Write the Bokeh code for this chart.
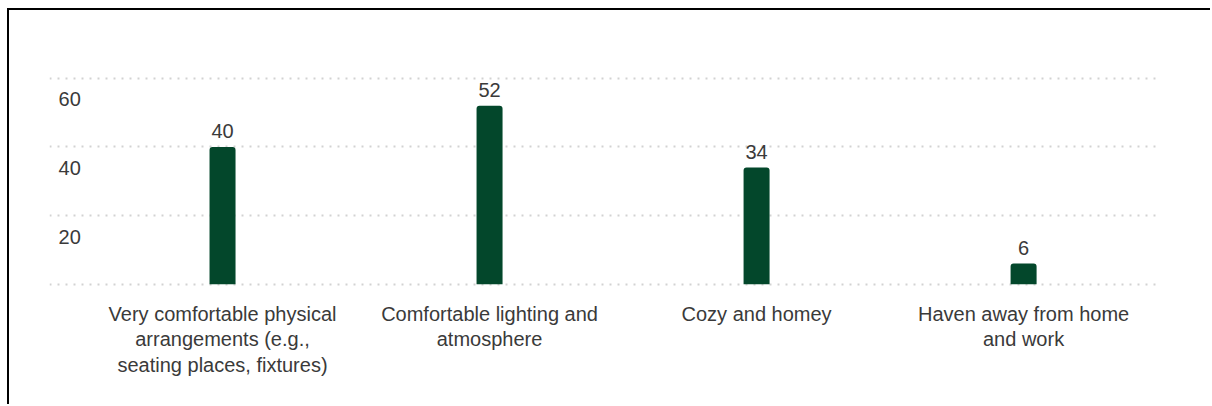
from bokeh.plotting import figure
from bokeh.models import Range1d, FixedTicker, ColumnDataSource
from bokeh.core.properties import value
from bokeh.embed import file_html
from bokeh.resources import INLINE

categories = [
    "Very comfortable physical\narrangements (e.g.,\nseating places, fixtures)",
    "Comfortable lighting and\natmosphere",
    "Cozy and homey",
    "Haven away from home\nand work",
]
values = [40, 52, 34, 6]
y_ticks = [0, 20, 40, 60]
y_tick_labels = ["", "20", "40", "60"]

FONT = "Liberation Sans"
BAR = "#03472b"
TXT = "#3a3a3a"

xs = list(range(len(categories)))

p = figure(
    width=1203, height=396,
    output_backend="svg", toolbar_location=None,
    x_range=Range1d(-0.648, 3.509), y_range=Range1d(-3, 62),
    min_border_left=40, min_border_right=53, min_border_top=61, min_border_bottom=112,
)
p.styles = {"border-left": "2px solid #000", "border-top": "2px solid #000",
            "margin-left": "7px", "margin-top": "8px"}
p.outline_line_color = None
p.background_fill_color = "white"
p.border_fill_color = "white"

p.xgrid.visible = False
p.ygrid.ticker = FixedTicker(ticks=y_ticks)
p.ygrid.grid_line_color = "#d2d2d2"
p.ygrid.grid_line_width = 2
p.ygrid.grid_line_dash = "2 6"
p.yaxis.visible = False

ax = p.xaxis[0]
ax.ticker = FixedTicker(ticks=xs)
ax.major_label_overrides = {i: c for i, c in zip(xs, categories)}
ax.axis_line_color = None
ax.major_tick_line_color = None
ax.minor_tick_line_color = None
ax.major_tick_out = 0
ax.major_tick_in = 0
ax.major_label_standoff = 8
ax.major_label_text_font = FONT
ax.major_label_text_font_size = "20px"
ax.major_label_text_line_height = 1.17
ax.major_label_text_color = TXT

src = ColumnDataSource(dict(x=xs, top=values, lab=[str(v) for v in values]))
p.vbar(x="x", top="top", bottom=0, width=0.0974, source=src,
       fill_color=BAR, line_color=None, border_radius=(3, 3, 0, 0))
p.text(x="x", y="top", text="lab", source=src, text_align="center",
       text_baseline="alphabetic", y_offset=-16,
       text_font=value(FONT), text_font_size="20px", text_color=TXT)

ysrc = ColumnDataSource(dict(x=[-0.614] * len(y_ticks), y=y_ticks, t=y_tick_labels))
p.text(x="x", y="y", text="t", source=ysrc, text_align="left",
       text_baseline="middle", y_offset=21,
       text_font=value(FONT), text_font_size="20px", text_color=TXT)

open("out.html", "w").write(file_html(p, INLINE))
